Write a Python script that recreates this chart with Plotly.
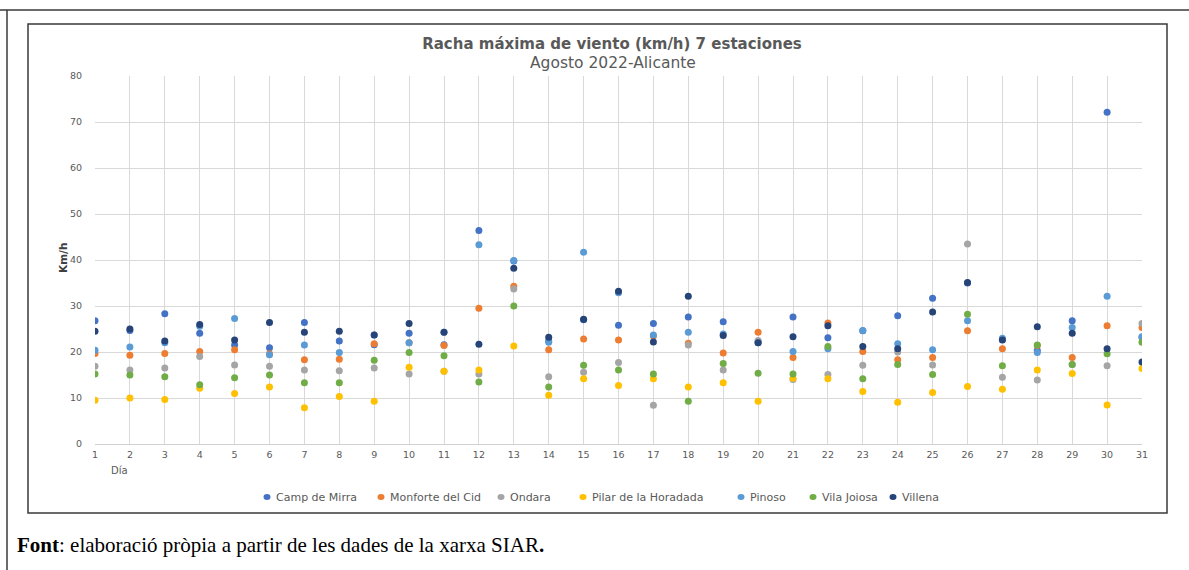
#scatter of max wind gust for 7 SIAR stations, august 2022 (Alicante)
import plotly.graph_objects as go

dias = list(range(1, 32))

estaciones = ["Camp de Mirra", "Monforte del Cid", "Ondara", "Pilar de la Horadada", "Pinoso", "Vila Joiosa", "Villena"]
colores = ["#4472C4", "#ED7D31", "#A5A5A5", "#FFC000", "#5B9BD5", "#70AD47", "#264478"]

camp_de_mirra = [26.8, 24.7, 28.3, 24.1, 21.5, 20.9, 26.4, 22.4, 21.6, 24.1, 21.6, 46.4, 39.8, 22.4, 27.0, 25.8,
                 26.2, 27.6, 26.6, 22.2, 27.6, 23.1, 24.6, 27.9, 31.7, 35.0, 22.7, 20.3, 26.8, 72.1, 23.2]
monforte_del_cid = [19.7, 19.3, 19.7, 20.1, 20.5, 19.6, 18.3, 18.4, 21.8, 22.0, 21.4, 29.5, 34.3, 20.5, 22.8, 22.6,
                    23.5, 21.9, 19.8, 24.3, 18.8, 26.3, 20.1, 18.3, 18.8, 24.6, 20.7, 21.4, 18.8, 25.7, 25.3]
ondara = [16.9, 16.1, 16.5, 19.0, 17.2, 16.9, 16.1, 15.9, 16.5, 15.2, 15.8, 15.2, 33.7, 14.6, 15.6, 17.7,
          8.4, 21.5, 16.1, 22.5, 14.0, 15.1, 17.1, 20.0, 17.2, 43.5, 14.5, 13.9, 17.3, 17.0, 26.2]
pilar_de_la_horadada = [9.5, 10.0, 9.7, 12.1, 11.0, 12.4, 7.9, 10.3, 9.3, 16.7, 15.8, 16.1, 21.3, 10.6, 14.2, 12.7,
                        14.2, 12.4, 13.3, 9.3, 14.3, 14.2, 11.4, 9.1, 11.2, 12.5, 11.9, 16.1, 15.3, 8.5, 16.4]
pinoso = [20.4, 21.1, 22.0, 25.6, 27.3, 19.4, 21.5, 19.9, 23.7, 22.0, 24.3, 43.3, 39.9, 22.1, 41.7, 32.9,
          23.7, 24.3, 23.9, 22.0, 20.1, 20.7, 24.7, 21.8, 20.5, 26.8, 23.0, 19.9, 25.3, 32.1, 23.3]
vila_joiosa = [15.2, 15.0, 14.6, 12.9, 14.4, 15.0, 13.3, 13.3, 18.2, 19.9, 19.2, 13.5, 30.0, 12.4, 17.1, 16.1,
               15.2, 9.3, 17.5, 15.4, 15.2, 21.2, 14.2, 17.3, 15.1, 28.2, 17.0, 21.5, 17.3, 19.6, 22.1]
villena = [24.5, 25.0, 22.4, 26.0, 22.6, 26.4, 24.3, 24.5, 23.7, 26.2, 24.3, 21.7, 38.2, 23.2, 27.1, 33.2,
           22.2, 32.1, 23.6, 22.0, 23.3, 25.7, 21.2, 20.7, 28.7, 35.1, 22.6, 25.5, 24.1, 20.7, 17.8]

series = [camp_de_mirra, monforte_del_cid, ondara, pilar_de_la_horadada, pinoso, vila_joiosa, villena]

gris = "#595959"
fuente = "DejaVu Sans"

#plot area in pixels: x 95..1142, y 76..444 -> used to convert frame positions to paper coords
L, R, T, B = 95, 1142, 76, 444
def px(x):
    return (x - L) / (R - L)
def py(y):
    return (B - y) / (B - T)

fig = go.Figure()
for i in range(0, len(estaciones)):
    fig.add_trace(go.Scatter(x=dias, y=series[i], mode="markers", name=estaciones[i], showlegend=False,
                             marker=dict(color=colores[i], size=7, symbol="circle")))

fig.update_layout(
    width=1189, height=570,
    margin=dict(l=L, r=1189 - R, t=T, b=570 - B),
    paper_bgcolor="white", plot_bgcolor="white",
    font=dict(family=fuente, color=gris, size=10),
    title=dict(text="<b>Racha máxima de viento (km/h) 7 estaciones</b>",
               x=612 / 1189, xanchor="center", y=1 - 43.5 / 570, yanchor="middle",
               font=dict(family=fuente, size=15, color=gris)),
)

fig.add_annotation(text="Agosto 2022-Alicante", x=px(613), y=py(63.5), xref="paper", yref="paper",
                   yanchor="middle", showarrow=False, font=dict(size=15.5, color=gris, family=fuente))

fig.update_xaxes(range=[1, 31], dtick=1, tick0=1, showgrid=True, gridcolor="#d9d9d9", gridwidth=1,
                 zeroline=False, showline=True, linecolor="#d0d0d0", ticks="",
                 tickfont=dict(size=9.5, color=gris), ticklabelstandoff=2)
fig.update_yaxes(range=[0, 80], dtick=10, showgrid=True, gridcolor="#d9d9d9", gridwidth=1,
                 zeroline=False, showline=False, ticks="",
                 tickfont=dict(size=9.5, color=gris), ticklabelstandoff=12)

#axis titles
fig.add_annotation(text="<b>Km/h</b>", x=px(55), y=py(258), xref="paper", yref="paper", textangle=-90,
                   showarrow=False, font=dict(size=10.5, color="#404040", family=fuente))
fig.add_annotation(text="Día", x=px(109), y=py(478), xref="paper", yref="paper",
                   showarrow=False, font=dict(size=10, color=gris, family=fuente))

#legend drawn by hand so spacing matches the excel one
leyenda_x = [267, 381, 501, 583, 741, 813, 893]
for i in range(0, len(estaciones)):
    fig.add_shape(type="circle", xref="paper", yref="paper", xsizemode="pixel", ysizemode="pixel",
                  xanchor=px(leyenda_x[i]), yanchor=py(497), x0=-3.5, x1=3.5, y0=-3, y1=3,
                  fillcolor=colores[i], line=dict(width=0))
    fig.add_annotation(text=estaciones[i], x=px(leyenda_x[i] + 7), y=py(497), xref="paper", yref="paper",
                       xanchor="left", yanchor="middle", showarrow=False,
                       font=dict(size=11, color=gris, family=fuente))

#footer (source)
fig.add_annotation(text="<b>Font</b>: elaboració pròpia a partir de les dades de la xarxa SIAR<b>.</b>",
                   x=px(15), y=py(545), xref="paper", yref="paper", xanchor="left", yanchor="middle",
                   showarrow=False, font=dict(size=21, color="black", family="Liberation Serif"))

#frames: chart box and outer table lines
fig.add_shape(type="rect", xref="paper", yref="paper", x0=px(28), x1=px(1167), y0=py(24), y1=py(513),
              line=dict(color="#3a3a3a", width=1.5))
fig.add_shape(type="line", xref="paper", yref="paper", x0=px(0), x1=px(1189), y0=py(10), y1=py(10),
              line=dict(color="#3a3a3a", width=1.5))
fig.add_shape(type="line", xref="paper", yref="paper", x0=px(7), x1=px(7), y0=py(10), y1=py(575),
              line=dict(color="#3a3a3a", width=1.5))

fig.write_html("out.html", config={"displayModeBar": False}, post_script="document.body.style.margin='0';")
